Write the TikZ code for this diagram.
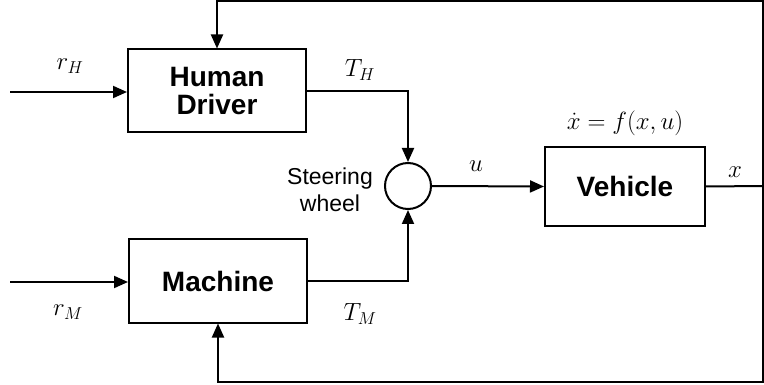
\documentclass[tikz,border=0pt]{standalone}
\usepackage{fontspec}
\setmainfont{Liberation Sans}
\usetikzlibrary{arrows.meta}
\begin{document}
\begin{tikzpicture}[x=1pt,y=-1pt,
  blk/.style={draw,line width=2pt,rectangle,minimum width=178pt,minimum height=83pt,align=center,inner sep=0pt,
    font=\fontsize{28}{30}\selectfont\bfseries},
  arr/.style={line width=2pt,-{Triangle[length=14pt,width=12pt]}},
  ln/.style={line width=2pt},
  mlab/.style={font=\fontsize{25}{27}\selectfont,inner sep=0pt},
  tlab/.style={font=\fontsize{23}{27}\selectfont,align=center,inner sep=0pt}]
\useasboundingbox (0,0) rectangle (764,385);
\node[blk] (hd) at (217,91) {Human\\[-2pt]Driver};
\node[blk] (mach) at (218,281) {Machine};
\node[draw,line width=2pt,circle,minimum size=46pt,inner sep=0pt] (sw) at (408,186) {};
\node[blk,minimum width=160pt,minimum height=79pt] (veh) at (625,186.5) {Vehicle};
\coordinate (in1) at (10,92);
\coordinate (in2) at (10,282);
\coordinate (xout) at (763,186);
\coordinate (tr) at (763,1);
\coordinate (br) at (763,382);
\draw[arr] (in1) -- (hd.west |- in1);
\draw[arr] (in2) -- (mach.west |- in2);
\draw[arr] (hd.east) -| (sw.north);
\draw[arr] (mach.east) -| (sw.south);
\draw[arr] (sw.east) -- (veh.west);
\draw[ln] (veh.east) -- (xout);
\draw[arr] (xout) -- (tr) -| (hd.north);
\draw[arr] (xout) -- (br) -| (mach.south);
\node[mlab] (rh) at (70,66) {$r_H$};
\node[mlab] (rm) at (68,312) {$r_M$};
\node[mlab] (th) at (360,70) {$T_H$};
\node[mlab] (tm) at (360,314) {$T_M$};
\node[mlab] (ul) at (476,166) {$u$};
\node[mlab] (xl) at (735,172) {$x$};
\node[mlab] (eq) at (625,123) {$\dot{x} = f(x,u)$};
\node[tlab] (swl) at (330,190) {Steering\\wheel};
\end{tikzpicture}
\end{document}
